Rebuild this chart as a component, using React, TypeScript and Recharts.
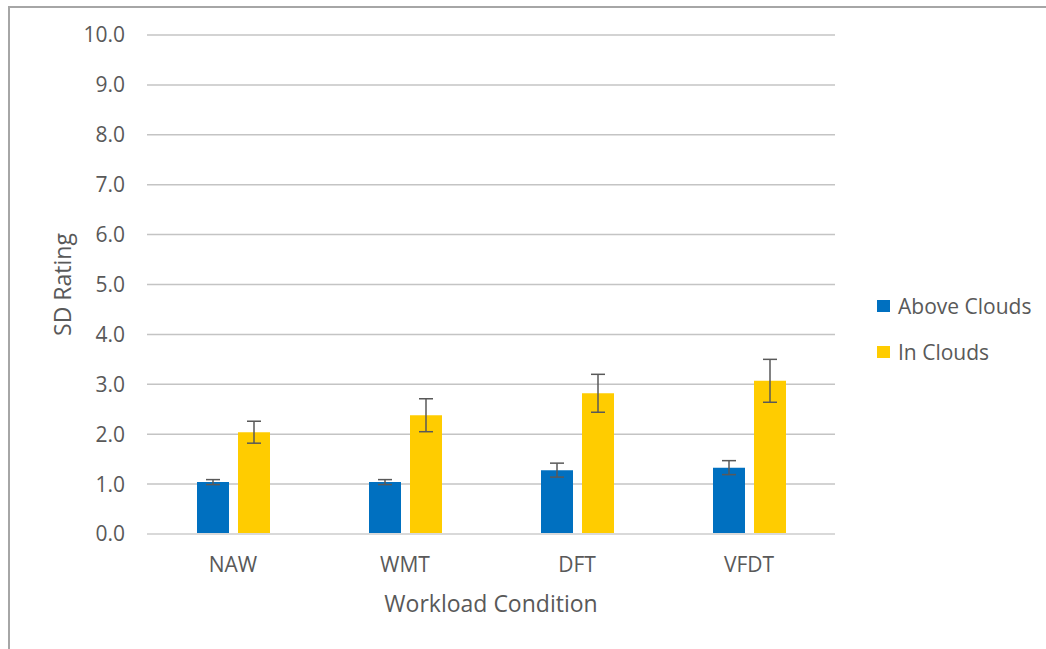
import React from "react";
import { BarChart, Bar, XAxis, YAxis, CartesianGrid, ErrorBar } from "recharts";

const categories = ["NAW", "WMT", "DFT", "VFDT"];
const aboveClouds = [1.04, 1.04, 1.28, 1.33];
const aboveCloudsErr = [0.05, 0.05, 0.14, 0.14];
const inClouds = [2.04, 2.38, 2.82, 3.07];
const inCloudsErr = [0.22, 0.33, 0.38, 0.43];
const yTicks = [0, 1, 2, 3, 4, 5, 6, 7, 8, 9, 10];

const BLUE = "#0070c0";
const YELLOW = "#ffcc00";
const TEXT = "#595959";
const FONT = "'Open Sans', 'DejaVu Sans', sans-serif";

const data = categories.map((name, i) => ({
  name,
  above: aboveClouds[i],
  aboveErr: aboveCloudsErr[i],
  inside: inClouds[i],
  insideErr: inCloudsErr[i],
}));

const legendItems = [
  { label: "Above Clouds", color: BLUE },
  { label: "In Clouds", color: YELLOW },
];

export default function App() {
  return (
    <div
      style={{
        position: "absolute",
        left: 8,
        top: 6,
        width: 1036,
        height: 641,
        borderTop: "2px solid #a6a6a6",
        borderLeft: "2px solid #a6a6a6",
        fontFamily: FONT,
        background: "#fff",
      }}
    >
      <BarChart
        width={1036}
        height={641}
        data={data}
        margin={{ top: 27, right: 211, bottom: 35, left: 77 }}
        barSize={32}
        barGap={9}
      >
        <CartesianGrid vertical={false} stroke="#c4c4c4" strokeWidth={1.5} />
        <XAxis
          dataKey="name"
          height={80}
          tickLine={false}
          tickSize={0}
          tickMargin={23}
          axisLine={{ stroke: "#d9d9d9", strokeWidth: 2 }}
          tick={{ fill: TEXT, fontSize: 21, fontFamily: FONT }}
          label={{
            content: (p: any) => {
              const vb = p.viewBox || {};
              return (
                <text
                  x={vb.x + vb.width / 2}
                  y={595}
                  textAnchor="middle"
                  dominantBaseline="central"
                  fill={TEXT}
                  fontSize={23}
                  fontFamily={FONT}
                >
                  Workload Condition
                </text>
              );
            },
          }}
        />
        <YAxis
          width={60}
          domain={[0, 10]}
          ticks={yTicks}
          interval={0}
          tickFormatter={(v: number) => v.toFixed(1)}
          axisLine={false}
          tickLine={false}
          tickSize={0}
          tickMargin={22}
          tick={{ fill: TEXT, fontSize: 21, fontFamily: FONT }}
          label={{
            content: (p: any) => {
              const vb = p.viewBox || {};
              const cy = vb.y + vb.height / 2;
              return (
                <text
                  x={52}
                  y={cy}
                  transform={`rotate(-90, 52, ${cy})`}
                  textAnchor="middle"
                  dominantBaseline="central"
                  fill={TEXT}
                  fontSize={23}
                  fontFamily={FONT}
                >
                  SD Rating
                </text>
              );
            },
          }}
        />
        <Bar dataKey="above" name="Above Clouds" fill={BLUE} isAnimationActive={false}>
          <ErrorBar dataKey="aboveErr" width={7} stroke={TEXT} strokeWidth={1.5} />
        </Bar>
        <Bar dataKey="inside" name="In Clouds" fill={YELLOW} isAnimationActive={false}>
          <ErrorBar dataKey="insideErr" width={7} stroke={TEXT} strokeWidth={1.5} />
        </Bar>
      </BarChart>
      <div style={{ position: "absolute", left: 867, top: 275 }}>
        {legendItems.map((item) => (
          <div
            key={item.label}
            style={{ display: "flex", alignItems: "center", height: 46, color: TEXT, fontSize: 21 }}
          >
            <span
              style={{ display: "inline-block", width: 13, height: 12, background: item.color, marginRight: 8 }}
            />
            <span>{item.label}</span>
          </div>
        ))}
      </div>
    </div>
  );
}
